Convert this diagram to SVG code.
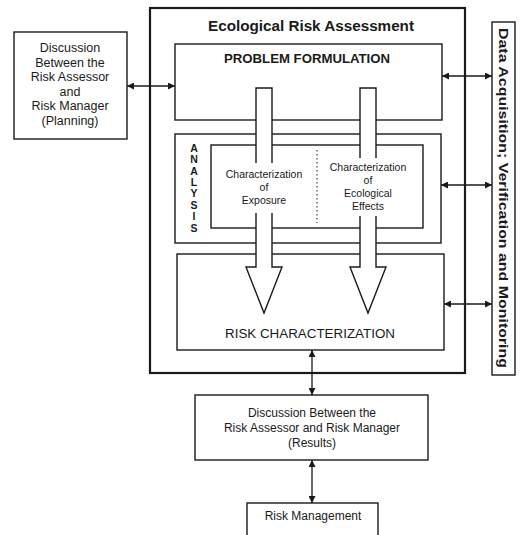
<svg xmlns="http://www.w3.org/2000/svg" width="520" height="535" viewBox="0 0 520 535">
<style>
.box{fill:none;stroke:#1a1a1a;stroke-width:1.4}
.thick{fill:none;stroke:#1a1a1a;stroke-width:2.2}
.conn{fill:none;stroke:#1a1a1a;stroke-width:1.3}
.big{fill:#fff;stroke:#1a1a1a;stroke-width:1.4;stroke-linejoin:miter}
text{font-family:"Liberation Sans",Arial,sans-serif;fill:#1a1a1a;text-anchor:middle}
.t{font-size:12.5px}
.r{font-size:12px}
.s{font-size:10.5px}
.b{font-weight:bold}
</style>
<defs>
<marker id="ah" viewBox="0 0 10 10" refX="10" refY="5" markerWidth="10" markerHeight="7" markerUnits="userSpaceOnUse" orient="auto-start-reverse">
<path d="M0,0 L10,5 L0,10 Z" fill="#1a1a1a"/>
</marker>
</defs>
<rect width="520" height="535" fill="#fff"/>

<g id="era">
<rect class="thick" x="150" y="8" width="315" height="365"/>
<text class="b" x="311" y="31" font-size="14" textLength="206" lengthAdjust="spacingAndGlyphs">Ecological Risk Assessment</text>
</g>

<g id="planning">
<rect class="box" x="14" y="32" width="113" height="107"/>
<text class="t" x="70" y="52">Discussion</text>
<text class="t" x="70" y="67">Between the</text>
<text class="t" x="70" y="81">Risk Assessor</text>
<text class="t" x="70" y="96">and</text>
<text class="t" x="70" y="110">Risk Manager</text>
<text class="t" x="70" y="125">(Planning)</text>
</g>

<g id="problem-formulation">
<rect class="box" x="175" y="44" width="267" height="76"/>
<text class="b" x="307" y="63" font-size="12" textLength="166" lengthAdjust="spacingAndGlyphs">PROBLEM FORMULATION</text>
</g>

<g id="analysis">
<rect class="box" x="175" y="134" width="266" height="109"/>
<g class="b" font-size="10.5">
<text x="194" y="152">A</text>
<text x="194" y="163">N</text>
<text x="194" y="175">A</text>
<text x="194" y="186">L</text>
<text x="194" y="197">Y</text>
<text x="194" y="209">S</text>
<text x="194" y="220">I</text>
<text x="194" y="232">S</text>
</g>
<rect class="box" x="211" y="145" width="212" height="83"/>
<line x1="317" y1="150" x2="317" y2="223" stroke="#1a1a1a" stroke-width="1" stroke-dasharray="1.5,2.5"/>
</g>

<g id="risk-characterization">
<rect class="box" x="177" y="254" width="267" height="96"/>
<text x="310" y="338" font-size="12" font-weight="500" textLength="170" lengthAdjust="spacingAndGlyphs">RISK CHARACTERIZATION</text>
</g>

<g id="big-arrows">
<polygon class="big" points="256,88 272,88 272,267 282,267 264,313 246,267 256,267"/>
<polygon class="big" points="360,88 376,88 376,267 386,267 368,313 350,267 360,267"/>
<rect x="252" y="163" width="24" height="50" fill="#fff"/>
<rect x="356" y="158" width="24" height="58" fill="#fff"/>
</g>

<g id="exposure">
<text class="s" x="264" y="178">Characterization</text>
<text class="s" x="264" y="191">of</text>
<text class="s" x="264" y="204">Exposure</text>
</g>

<g id="effects">
<text class="s" x="368" y="171">Characterization</text>
<text class="s" x="368" y="184">of</text>
<text class="s" x="368" y="197">Ecological</text>
<text class="s" x="368" y="210">Effects</text>
</g>

<g id="data">
<rect class="box" x="492" y="22" width="23" height="353"/>
<text class="b" transform="translate(499,198) rotate(90)" font-size="13" textLength="340" lengthAdjust="spacingAndGlyphs">Data Acquisition; Verification and Monitoring</text>
</g>

<g id="results">
<rect class="box" x="195" y="395" width="233" height="65"/>
<text class="r" x="312" y="417">Discussion Between the</text>
<text class="r" x="312" y="432">Risk Assessor and Risk Manager</text>
<text class="r" x="312" y="447">(Results)</text>
</g>

<g id="risk-management">
<rect class="box" x="247" y="503" width="131" height="40"/>
<text class="r" x="313" y="520">Risk Management</text>
</g>

<g id="connectors">
<line class="conn" x1="127" y1="86" x2="175" y2="86" marker-start="url(#ah)" marker-end="url(#ah)"/>
<line class="conn" x1="442" y1="76" x2="492" y2="76" marker-start="url(#ah)" marker-end="url(#ah)"/>
<line class="conn" x1="441" y1="185" x2="492" y2="185" marker-start="url(#ah)" marker-end="url(#ah)"/>
<line class="conn" x1="444" y1="304" x2="492" y2="304" marker-start="url(#ah)" marker-end="url(#ah)"/>
<line class="conn" x1="312" y1="350" x2="312" y2="395" marker-start="url(#ah)" marker-end="url(#ah)"/>
<line class="conn" x1="312" y1="460" x2="312" y2="503" marker-start="url(#ah)" marker-end="url(#ah)"/>
</g>
</svg>
